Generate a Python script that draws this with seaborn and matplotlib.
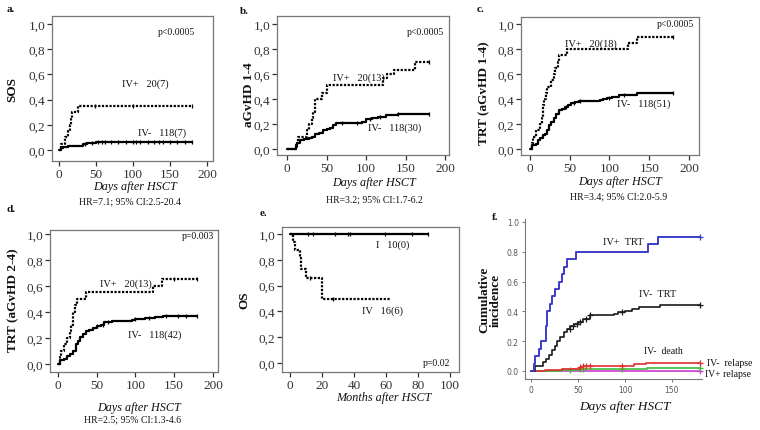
import matplotlib

matplotlib.use("Agg")
import matplotlib.pyplot as plt  # noqa: E402
import numpy as np  # noqa: E402
import seaborn as sns  # noqa: E402
from matplotlib.ticker import FuncFormatter  # noqa: E402

# ---- values ----
# a. SOS
a_pos_t = [0, 3, 8, 12, 15, 16, 17, 26, 180]
a_pos_y = [0, 0.05, 0.10, 0.15, 0.20, 0.25, 0.30, 0.35, 0.35]
a_pos_c = [48, 100, 180]
a_neg_t = [0, 2, 5, 12, 22, 32, 38, 50, 180]
a_neg_y = [0, 0.015, 0.025, 0.03, 0.035, 0.05, 0.055, 0.065, 0.065]
a_neg_c = [35, 45, 52, 58, 62, 70, 80, 90, 100, 104, 110, 120, 128, 135, 140, 150, 160, 170, 180]

# b. aGvHD 1-4
b_pos_t = [0, 13, 14, 25, 28, 31, 33, 35, 44, 51, 122, 127, 135, 162, 180]
b_pos_y = [0, 0.05, 0.10, 0.15, 0.20, 0.25, 0.30, 0.40, 0.45, 0.51, 0.57, 0.60, 0.635, 0.695, 0.695]
b_pos_c = [180]
b_neg_t = [0, 11, 13, 16, 22, 28, 32, 36, 40, 45, 50, 54, 58, 62, 90, 95, 100, 108, 115, 125, 140, 180]
b_neg_y = [0, 0.03, 0.05, 0.07, 0.08, 0.09, 0.10, 0.12, 0.13, 0.15, 0.16, 0.17, 0.19, 0.205,
           0.21, 0.22, 0.24, 0.25, 0.26, 0.27, 0.28, 0.28]
b_neg_c = [70, 88, 105, 118, 140, 180]

# c. TRT (aGvHD 1-4)
c_pos_t = [0, 2, 4, 8, 12, 15, 16, 17, 18, 20, 22, 27, 30, 32, 35, 37, 47, 123, 134, 180]
c_pos_y = [0, 0.05, 0.10, 0.15, 0.20, 0.25, 0.30, 0.35, 0.40, 0.45, 0.50, 0.55, 0.60, 0.65,
           0.70, 0.75, 0.80, 0.85, 0.90, 0.90]
c_pos_c = [180]
c_neg_t = [0, 2, 7, 10, 13, 16, 19, 22, 24, 27, 30, 33, 36, 40, 44, 48, 52, 57, 62, 88, 92,
           97, 103, 112, 135, 180]
c_neg_y = [0, 0.03, 0.04, 0.07, 0.09, 0.11, 0.12, 0.15, 0.19, 0.22, 0.25, 0.28, 0.31, 0.32,
           0.34, 0.35, 0.37, 0.38, 0.385, 0.39, 0.40, 0.41, 0.42, 0.435, 0.445, 0.445]
c_neg_c = [45, 55, 63, 100, 118, 180]

# d. TRT (aGvHD 2-4)
d_pos_t = [0, 2, 4, 8, 12, 15, 17, 19, 20, 22, 25, 36, 122, 134, 180]
d_pos_y = [0, 0.05, 0.10, 0.15, 0.20, 0.25, 0.30, 0.35, 0.40, 0.45, 0.50, 0.55, 0.60, 0.65, 0.65]
d_pos_c = [150, 180]
d_neg_t = [0, 2, 8, 12, 16, 20, 23, 26, 29, 32, 36, 40, 45, 50, 55, 60, 70, 95, 100, 112,
           125, 135, 180]
d_neg_y = [0, 0.03, 0.04, 0.06, 0.08, 0.10, 0.15, 0.18, 0.21, 0.23, 0.25, 0.26, 0.28, 0.29,
           0.30, 0.32, 0.33, 0.335, 0.345, 0.355, 0.36, 0.37, 0.37]
d_neg_c = [50, 58, 65, 100, 118, 140, 155, 165, 180]

# e. OS (months)
e_I_t = [0, 86]
e_I_y = [1.0, 1.0]
e_I_c = [11.5, 14.6, 28, 36.5, 37.5, 59.4, 76, 86]
e_IV_t = [0, 2, 3, 6, 7, 10, 20, 63]
e_IV_y = [1.0, 0.9375, 0.875, 0.8125, 0.73, 0.66, 0.495, 0.495]
e_IV_c = [12.5, 27]

# f. cumulative incidence
f_pos_t = [0, 3, 4, 9, 11, 16, 17, 20, 22, 26, 30, 33, 35, 38, 48, 124, 135, 180]
f_pos_y = [0, 0.05, 0.10, 0.15, 0.20, 0.30, 0.40, 0.45, 0.50, 0.55, 0.60, 0.65, 0.70, 0.75,
           0.80, 0.85, 0.90, 0.90]
f_neg_t = [0, 4, 10, 13, 16, 19, 22, 25, 28, 31, 35, 38, 42, 46, 50, 55, 63, 88, 93, 100,
           108, 115, 137, 180]
f_neg_y = [0, 0.03, 0.035, 0.06, 0.08, 0.11, 0.14, 0.17, 0.20, 0.23, 0.26, 0.28, 0.30, 0.315,
           0.33, 0.35, 0.375, 0.385, 0.395, 0.405, 0.415, 0.43, 0.44, 0.44]
f_neg_c = [41, 45, 49, 52, 58, 63, 97, 180]
f_red_t = [0, 15, 33, 52, 55, 63, 110, 122, 180]
f_red_y = [0, 0.005, 0.01, 0.025, 0.03, 0.035, 0.045, 0.052, 0.052]
f_red_c = [52, 55, 58, 63, 97, 180]
f_org_t = [33, 52]
f_org_y = [0.016, 0.016]
f_grn_t = [0, 33, 52, 123, 180]
f_grn_y = [0, 0.008, 0.013, 0.018, 0.018]
f_grn_c = [42, 52, 55, 97, 180]
f_mag_t = [0, 180]
f_mag_y = [0, 0]

Y_TICKS = [0.0, 0.2, 0.4, 0.6, 0.8, 1.0]
DAY_TICKS = [0, 50, 100, 150, 200]

W, H = 760, 431
SERIF = "Liberation Serif"


def px_axes(fig, l, t, r, b):
    return fig.add_axes([l / W, 1 - b / H, (r - l) / W, (b - t) / H])


def ftext(fig, x, y, s, **kw):
    kw.setdefault("ha", "center")
    kw.setdefault("va", "center")
    fig.text(x / W, 1 - y / H, s, **kw)


def step_at(t, y, c):
    idx = np.searchsorted(t, c, side="right") - 1
    return np.asarray(y)[idx]


def km(ax, t, y, cens=None, dotted=False, color="black", lw=1.6, marker="|", ms=3.5):
    ls = (0, (1, 0.7)) if dotted else "-"
    sns.lineplot(x=t, y=y, ax=ax, drawstyle="steps-post", color=color, linestyle=ls,
                 linewidth=lw, estimator=None, sort=False)
    if cens:
        ax.plot(cens, step_at(t, y, cens), linestyle="none", marker=marker, color=color,
                markersize=ms, markeredgewidth=0.9, clip_on=False)


def spss(ax, xlim, ylim, xticks):
    ax.set_xlim(xlim)
    ax.set_ylim(ylim)
    ax.set_xticks(xticks)
    ax.set_yticks(Y_TICKS)
    ax.yaxis.set_major_formatter(FuncFormatter(lambda v, p: f"{v:.1f}".replace(".", ",")))
    for s in ax.spines.values():
        s.set_color("#777777")
        s.set_linewidth(0.9)
    ax.tick_params(direction="out", length=3.5, width=0.9, color="#333333",
                   labelsize=9.5, pad=1.5)
    ax.set_xlabel("")
    ax.set_ylabel("")


def note(ax, x, y, s, size=7.5):
    ax.text(x, y, s, ha="left", va="center", fontsize=size)


sns.set_theme(style="ticks")
plt.rcParams["font.family"] = [SERIF, "DejaVu Serif"]
plt.rcParams["text.color"] = "#111111"
plt.rcParams["xtick.color"] = "#333333"
plt.rcParams["ytick.color"] = "#333333"

fig = plt.figure(figsize=(7.6, 4.31), dpi=100)

# a.
ax = px_axes(fig, 52, 17, 213, 162)
km(ax, a_pos_t, a_pos_y, a_pos_c, dotted=True)
km(ax, a_neg_t, a_neg_y, a_neg_c)
spss(ax, (-9.5, 208), (-0.087, 1.063), DAY_TICKS)
note(ax, 85, 0.53, "IV+   20(7)")
note(ax, 107, 0.14, "IV-   118(7)")
note(ax, 134, 0.94, "p<0.0005", 7)

# b.
ax = px_axes(fig, 277, 17, 449, 156)
km(ax, b_pos_t, b_pos_y, b_pos_c, dotted=True)
km(ax, b_neg_t, b_neg_y, b_neg_c)
spss(ax, (-12.7, 205), (-0.048, 1.064), DAY_TICKS)
note(ax, 58, 0.576, "IV+   20(13)")
note(ax, 102, 0.176, "IV-   118(30)")
note(ax, 152, 0.94, "p<0.0005", 7)

# c.
ax = px_axes(fig, 521, 18, 699, 156)
km(ax, c_pos_t, c_pos_y, c_pos_c, dotted=True)
km(ax, c_neg_t, c_neg_y, c_neg_c)
spss(ax, (-11.3, 212.6), (-0.048, 1.056), DAY_TICKS)
note(ax, 44, 0.85, "IV+   20(18)")
note(ax, 109, 0.37, "IV-   118(51)")
note(ax, 160, 1.0, "p<0.0005", 7)

# d.
ax = px_axes(fig, 50, 231, 218, 373)
km(ax, d_pos_t, d_pos_y, d_pos_c, dotted=True)
km(ax, d_neg_t, d_neg_y, d_neg_c)
spss(ax, (-10.3, 206.5), (-0.062, 1.03), DAY_TICKS)
note(ax, 54, 0.623, "IV+   20(13)")
note(ax, 90, 0.225, "IV-   118(42)")
note(ax, 160, 0.99, "p=0.003", 7)

# e.
ax = px_axes(fig, 282, 228, 459, 373)
km(ax, e_I_t, e_I_y, e_I_c)
km(ax, e_IV_t, e_IV_y, e_IV_c, dotted=True)
spss(ax, (-5, 105.6), (-0.07, 1.054), [0, 20, 40, 60, 80, 100])
note(ax, 54, 0.92, "I   10(0)")
note(ax, 45, 0.41, "IV   16(6)")
note(ax, 83, 0.005, "p=0.02", 7)

# f.
ax = px_axes(fig, 525, 220, 702, 380)
km(ax, f_mag_t, f_mag_y, [180], color="#d03ad0", lw=1.2, marker="+", ms=5)
km(ax, f_org_t, f_org_y, None, color="#f0a860", lw=1.2)
km(ax, f_grn_t, f_grn_y, f_grn_c, color="#3cbf3c", lw=1.2, marker="+", ms=5)
km(ax, f_red_t, f_red_y, f_red_c, color="#e03030", lw=1.2, marker="+", ms=5)
km(ax, f_neg_t, f_neg_y, f_neg_c, color="#1a1a1a", lw=1.2, marker="+", ms=5)
km(ax, f_pos_t, f_pos_y, [180], color="#3c3cc8", lw=1.4, marker="+", ms=5)
ax.set_xlim(-6.4, 182)
ax.set_ylim(-0.054, 1.02)
ax.set_xticks([0, 50, 100, 150])
ax.set_yticks(Y_TICKS)
ax.yaxis.set_major_formatter(FuncFormatter(lambda v, p: f"{v:.1f}"))
for side in ("top", "right"):
    ax.spines[side].set_visible(False)
for side in ("left", "bottom"):
    ax.spines[side].set_color("#777777")
    ax.spines[side].set_linewidth(0.8)
ax.tick_params(direction="out", length=2.5, width=0.7, color="#777777", labelsize=5.5,
               labelcolor="#555555", pad=2)
for t in ax.get_xticklabels() + ax.get_yticklabels():
    t.set_family("DejaVu Sans")
ax.set_xlabel("")
ax.set_ylabel("")
note(ax, 77, 0.866, "IV+  TRT", 7.5)
note(ax, 115, 0.517, "IV-  TRT", 7.5)
note(ax, 120, 0.136, "IV-  death", 7)
ax.text(187, 0.058, "IV-  relapse", ha="left", va="center", fontsize=7, clip_on=False)
ax.text(185, -0.02, "IV+ relapse", ha="left", va="center", fontsize=7, clip_on=False)

# labels outside the axes
bold = dict(fontweight="bold", rotation=90)
ftext(fig, 12.5, 89, "SOS", fontsize=9.5, **bold)
ftext(fig, 249, 95, "aGvHD 1-4", fontsize=9.5, **bold)
ftext(fig, 484, 93, "TRT (aGvHD 1-4)", fontsize=9.5, **bold)
ftext(fig, 13, 300, "TRT (aGvHD 2-4)", fontsize=9.5, **bold)
ftext(fig, 244, 300, "OS", fontsize=9.5, **bold)
ftext(fig, 490, 300, "Cumulative\nincidence", fontsize=9.5, linespacing=1.0, **bold)

ital = dict(fontstyle="italic", fontsize=8.7)
ftext(fig, 135, 187, "Days after HSCT", **ital)
ftext(fig, 374, 183, "Days after HSCT", **ital)
ftext(fig, 620, 182, "Days after HSCT", **ital)
ftext(fig, 139, 408, "Days after HSCT", **ital)
ftext(fig, 384, 398, "Months after HSCT", **ital)
ftext(fig, 625, 407, "Days after HSCT", fontstyle="italic", fontsize=9.5)

ftext(fig, 130, 202, "HR=7.1; 95% CI:2.5-20.4", fontsize=7)
ftext(fig, 374, 200, "HR=3.2; 95% CI:1.7-6.2", fontsize=7)
ftext(fig, 619, 197, "HR=3.4; 95% CI:2.0-5.9", fontsize=7)
ftext(fig, 133, 420, "HR=2.5; 95% CI:1.3-4.6", fontsize=7)

letter = dict(fontweight="bold", fontsize=8, ha="left")
ftext(fig, 7, 10, "a.", **letter)
ftext(fig, 240, 12, "b.", **letter)
ftext(fig, 477, 10, "c.", **letter)
ftext(fig, 7, 210, "d.", **letter)
ftext(fig, 260, 214, "e.", **letter)
ftext(fig, 492, 218, "f.", **letter)

fig.savefig("out.png", dpi=100, facecolor="white")
